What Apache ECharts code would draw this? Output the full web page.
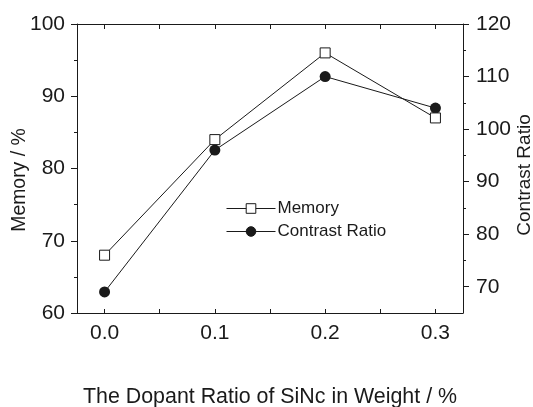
<!DOCTYPE html>
<html>
<head>
<meta charset="utf-8">
<script src="https://cdn.jsdelivr.net/npm/echarts@6/dist/echarts.min.js"></script>
<style>html,body{margin:0;padding:0;background:#fff;}#c{width:533px;height:407px;}</style>
</head>
<body>
<div id="c"></div>
<script>
const xValues = [0.0, 0.1, 0.2, 0.3];
const memory = [68, 84, 96, 87];
const contrastRatio = [69, 96, 110, 104];
const xTickValues = [0, 0.05, 0.1, 0.15, 0.2, 0.25, 0.3];
const xLabelValues = [0, 0.1, 0.2, 0.3];
const rightMajor = [70, 80, 90, 100, 110, 120];
const rightMinor = [75, 85, 95, 105, 115];

const FONT = '"Liberation Sans", Arial, sans-serif';
const INK = '#1a1a1a';
const chart = echarts.init(document.getElementById('c'), null, {renderer: 'canvas'});
const axisLine = {show: true, onZero: false, lineStyle: {color: INK, width: 1}};
chart.setOption({
  animation: false,
  backgroundColor: '#fff',
  textStyle: {fontFamily: FONT},
  grid: {left: 77, right: 70, top: 24, bottom: 94, containLabel: false, outerBoundsMode: 'none'},
  legend: {
    orient: 'vertical', left: 221, top: 195,
    itemWidth: 49, itemHeight: 12, itemGap: 6,
    lineStyle: {width: 1},
    itemStyle: {borderWidth: 1},
    textStyle: {fontFamily: FONT, fontSize: 17, color: INK, padding: [0, 0, 0, -3]},
    data: ['Memory', 'Contrast Ratio']
  },
  xAxis: [{
    type: 'value', position: 'bottom', min: -0.025, max: 0.325,
    name: 'The Dopant Ratio of SiNc in Weight / %', nameLocation: 'middle', nameGap: 74,
    nameMoveOverlap: false,
    nameTextStyle: {fontFamily: FONT, fontSize: 21.4, color: INK},
    axisLine: axisLine,
    axisTick: {show: true, inside: true, length: 4, customValues: xTickValues, lineStyle: {color: INK}},
    axisLabel: {customValues: xLabelValues, margin: 10, fontFamily: FONT, fontSize: 21, color: INK,
      formatter: v => v.toFixed(1)},
    splitLine: {show: false}
  }, {
    type: 'value', position: 'top', min: -0.025, max: 0.325,
    axisLine: axisLine,
    axisTick: {show: true, inside: true, length: 5, customValues: xTickValues, lineStyle: {color: INK}},
    axisLabel: {show: false},
    splitLine: {show: false}
  }],
  yAxis: [{
    type: 'value', position: 'left', min: 60, max: 100, interval: 10,
    name: 'Memory / %', nameLocation: 'middle', nameGap: 48, nameRotate: 90,
    nameMoveOverlap: false,
    nameTextStyle: {fontFamily: FONT, fontSize: 19.4, color: INK, padding: [0, 23, 0, 0]},
    axisLine: axisLine,
    axisTick: {show: true, inside: false, length: 6, lineStyle: {color: INK}},
    minorTick: {show: true, splitNumber: 2, length: 3, lineStyle: {color: INK}},
    axisLabel: {margin: 12, fontFamily: FONT, fontSize: 21, color: INK},
    splitLine: {show: false}
  }, {
    type: 'value', position: 'right', min: 65, max: 120,
    name: 'Contrast Ratio', nameLocation: 'middle', nameGap: 52, nameRotate: 90,
    nameMoveOverlap: false,
    nameTextStyle: {fontFamily: FONT, fontSize: 19, color: INK, padding: [0, 13, 0, 0]},
    axisLine: axisLine,
    axisTick: {show: true, inside: false, length: 6, customValues: rightMajor, lineStyle: {color: INK}},
    axisLabel: {customValues: rightMajor, margin: 13, fontFamily: FONT, fontSize: 21, color: INK},
    splitLine: {show: false}
  }, {
    type: 'value', position: 'right', offset: 0, min: 65, max: 120,
    axisLine: {show: false, onZero: false},
    axisTick: {show: true, inside: false, length: 3, customValues: rightMinor, lineStyle: {color: INK}},
    axisLabel: {show: false},
    splitLine: {show: false}
  }],
  series: [{
    name: 'Memory', type: 'line', xAxisIndex: 0, yAxisIndex: 0,
    data: xValues.map((x, i) => [x, memory[i]]),
    symbol: 'rect', symbolSize: 10,
    lineStyle: {color: INK, width: 1},
    itemStyle: {color: '#fff', borderColor: INK, borderWidth: 1},
    z: 3
  }, {
    name: 'Contrast Ratio', type: 'line', xAxisIndex: 0, yAxisIndex: 1,
    data: xValues.map((x, i) => [x, contrastRatio[i]]),
    symbol: 'circle', symbolSize: 11,
    lineStyle: {color: INK, width: 1},
    itemStyle: {color: INK, borderColor: INK, borderWidth: 0},
    z: 2
  }]
});
</script>
</body>
</html>
